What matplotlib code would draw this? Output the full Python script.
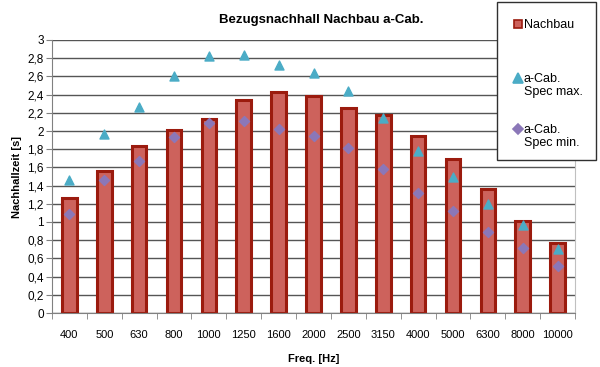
import numpy as np
import matplotlib.pyplot as plt
from matplotlib.ticker import FixedLocator, FuncFormatter
from matplotlib.patches import Rectangle
from matplotlib.lines import Line2D

plt.rcParams['font.family'] = ['Liberation Sans', 'DejaVu Sans']

freqs = ['400', '500', '630', '800', '1000', '1250', '1600', '2000', '2500',
         '3150', '4000', '5000', '6300', '8000', '10000']
nachbau = [1.26, 1.56, 1.84, 2.01, 2.13, 2.345, 2.425, 2.39, 2.25, 2.18,
           1.95, 1.69, 1.36, 1.01, 0.77]
spec_max = [1.46, 1.97, 2.26, 2.60, 2.82, 2.84, 2.73, 2.64, 2.44, 2.14,
            1.78, 1.50, 1.20, 0.97, 0.70]
spec_min = [1.09, 1.46, 1.67, 1.93, 2.09, 2.11, 2.02, 1.95, 1.81, 1.58,
            1.32, 1.12, 0.89, 0.71, 0.52]

bar_face, bar_edge = '#CD625C', '#9B1B0E'
tri_col, dia_col = '#4BACC6', '#8B77B8'

W, H = 600, 367
fig = plt.figure(figsize=(W / 100, H / 100), dpi=100)
ax = fig.add_axes([52 / W, 1 - 313 / H, 523 / W, 273 / H])

x = np.arange(len(freqs))
ax.bar(x, nachbau, width=0.42, color=bar_face, edgecolor=bar_edge,
       linewidth=2.2, zorder=2)
ax.scatter(x, spec_max, marker='^', s=42, color=tri_col, zorder=3)
ax.scatter(x, spec_min, marker='D', s=26, color=dia_col, zorder=3)

ax.set_xlim(-0.5, len(freqs) - 0.5)
ax.set_ylim(0, 3)
ax.set_yticks(np.arange(0, 3.01, 0.2))
ax.yaxis.set_major_formatter(FuncFormatter(
    lambda v, p: ('%g' % round(v, 1)).replace('.', ',')))
ax.set_xticks(x)
ax.set_xticklabels(freqs)
ax.xaxis.set_minor_locator(FixedLocator(np.arange(-0.5, len(freqs), 1)))
ax.tick_params(axis='x', which='major', length=0, pad=12, labelsize=8)
ax.tick_params(axis='x', which='minor', length=4, color='#808080')
ax.tick_params(axis='y', length=4, color='#808080', labelsize=8.5, pad=2)

ax.yaxis.grid(True, color='#555555', linewidth=1)
ax.set_axisbelow(True)
ax.spines['top'].set_visible(False)
ax.spines['right'].set_color('#c0c0c0')
ax.spines['left'].set_color('#808080')
ax.spines['bottom'].set_color('#808080')

fig.text(321 / W, 1 - 20 / H, 'Bezugsnachhall Nachbau a-Cab.', fontsize=9.5,
         fontweight='bold', ha='center', va='center')
ax.set_xlabel('Freq. [Hz]', fontsize=8, fontweight='bold', labelpad=10)
ax.set_ylabel('Nachhallzeit [s]', fontsize=8, fontweight='bold', labelpad=4)

# legend box drawn by hand so the markers sit at the first text line
tf = fig.transFigure
fig.add_artist(Rectangle((497 / W, 1 - 160 / H), 99 / W, 158 / H, transform=tf,
                         facecolor='white', edgecolor='#303030', linewidth=1,
                         zorder=5))
entries = [('s', bar_face, bar_edge, 6, 24, 'Nachbau'),
           ('^', tri_col, tri_col, 7, 78, 'a-Cab.\nSpec max.'),
           ('D', dia_col, dia_col, 5, 129, 'a-Cab.\nSpec min.')]
for mk, fc, ec, ms, yy, lab in entries:
    fig.add_artist(Line2D([518 / W], [1 - yy / H], transform=tf, marker=mk,
                          markersize=ms, markerfacecolor=fc, markeredgecolor=ec,
                          markeredgewidth=1.2, linestyle='none', zorder=6))
    fig.text(524 / W, 1 - (yy - 5) / H, lab, fontsize=9, va='top', ha='left',
             linespacing=1.15, zorder=6)

fig.savefig('out.png', dpi=100)
